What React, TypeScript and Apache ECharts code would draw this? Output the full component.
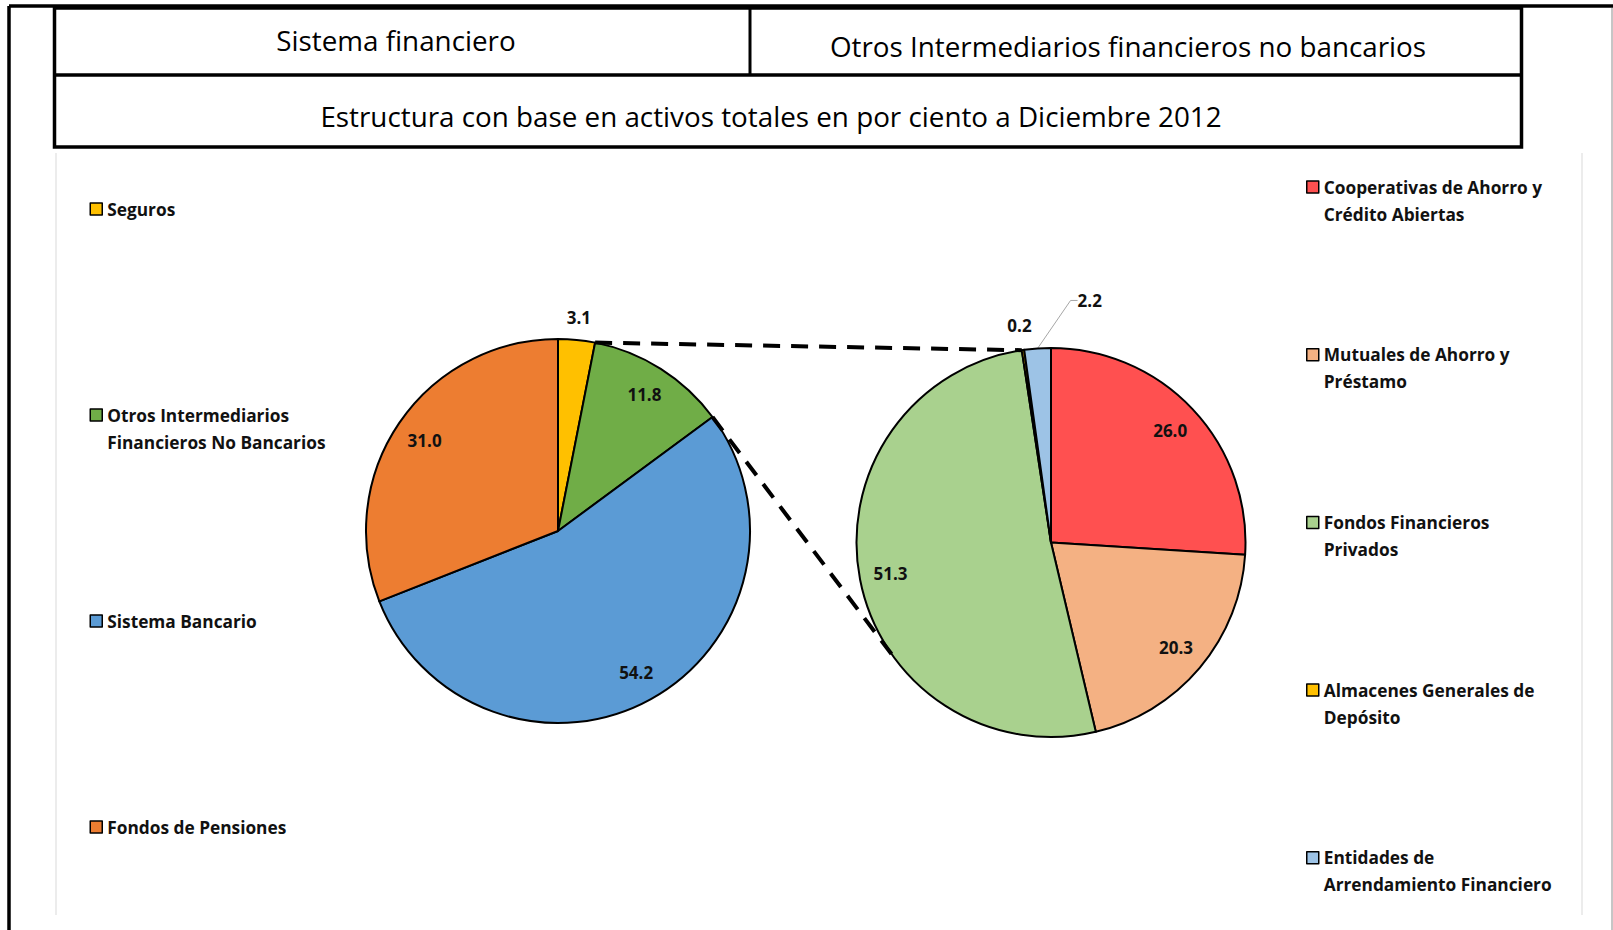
import React, { useEffect, useRef } from 'react';
import * as echarts from 'echarts';

const W = 1613;
const H = 930;

// Sistema financiero (primary pie)
const leftNames = [
  'Seguros',
  'Otros Intermediarios Financieros No Bancarios',
  'Sistema Bancario',
  'Fondos de Pensiones',
];
const leftValues = [3.1, 11.8, 54.2, 31.0];
const leftColors = ['#FFC000', '#70AD47', '#5B9BD5', '#ED7D31'];
const leftLegendLines = [
  ['Seguros'],
  ['Otros Intermediarios', 'Financieros No Bancarios'],
  ['Sistema Bancario'],
  ['Fondos de Pensiones'],
];

// Otros intermediarios financieros no bancarios (secondary pie)
const rightNames = [
  'Cooperativas de Ahorro y Crédito Abiertas',
  'Mutuales de Ahorro y Préstamo',
  'Fondos Financieros Privados',
  'Almacenes Generales de Depósito',
  'Entidades de Arrendamiento Financiero',
];
const rightValues = [26.0, 20.3, 51.3, 0.2, 2.2];
const rightColors = ['#FF5050', '#F4B183', '#A9D18E', '#FFC000', '#9DC3E6'];
const rightLegendLines = [
  ['Cooperativas de Ahorro y', 'Crédito Abiertas'],
  ['Mutuales de Ahorro y', 'Préstamo'],
  ['Fondos Financieros', 'Privados'],
  ['Almacenes Generales de', 'Depósito'],
  ['Entidades de', 'Arrendamiento Financiero'],
];

const headerTitles = [
  'Sistema financiero',
  'Otros Intermediarios financieros no bancarios',
  'Estructura con base en activos totales en por ciento a Diciembre 2012',
];

// slice index that is broken out into the secondary pie
const explodedIndex = 1;
// index where the small group of the secondary pie starts
const secondaryGroupStart = 3;

// label placement per slice: 'in' (inside ring), 'out' (just past the rim), 'callout'
const leftLabelMode = ['out', 'in', 'in', 'in'];
const rightLabelMode = ['in', 'in', 'in', 'out', 'callout'];

const FONT = '"Open Sans", Lato, sans-serif';
const LEFT = { cx: 558, cy: 531, r: 192 };
const RIGHT = { cx: 1051, cy: 542.5, r: 194.5 };

type Circle = { cx: number; cy: number; r: number };

const rad = (d: number) => (d * Math.PI) / 180;
const pointAt = (c: Circle, deg: number, rr: number = c.r): number[] => [
  c.cx + rr * Math.sin(rad(deg)),
  c.cy - rr * Math.cos(rad(deg)),
];
const cumDeg = (vals: number[], k: number) => {
  const total = vals.reduce((a, b) => a + b, 0);
  return (vals.slice(0, k).reduce((a, b) => a + b, 0) / total) * 360;
};
// lower tangent point from an outside point to a circle
const lowerTangent = (p: number[], c: Circle): number[] => {
  const vx = p[0] - c.cx;
  const vy = p[1] - c.cy;
  const d = Math.hypot(vx, vy);
  const phi = Math.acos(c.r / d);
  const base = Math.atan2(vy, vx);
  const cands = [base + phi, base - phi].map((a) => [c.cx + c.r * Math.cos(a), c.cy + c.r * Math.sin(a)]);
  return cands[0][1] > cands[1][1] ? cands[0] : cands[1];
};

const labelText = {
  fontFamily: FONT,
  fontWeight: 'bold' as const,
  fontSize: 17,
  color: '#111',
};

const fmt = (p: any) => Number(p.value).toFixed(1);

function mainPie(c: Circle, names: string[], vals: number[], colors: string[], modes: string[]) {
  return {
    type: 'pie',
    center: [c.cx, c.cy],
    radius: [0, c.r],
    startAngle: 90,
    clockwise: true,
    avoidLabelOverlap: false,
    emphasis: { disabled: true },
    itemStyle: { borderColor: '#000', borderWidth: 2 },
    label: { show: false },
    labelLine: { show: false },
    data: names.map((n, i) => {
      const item: any = { name: n, value: vals[i], itemStyle: { color: colors[i] } };
      if (modes[i] === 'callout') {
        item.label = { show: true, position: 'outside', formatter: fmt, ...labelText };
        item.labelLine = {
          show: true,
          length: 10,
          length2: 7,
          lineStyle: { color: '#a6a6a6', width: 1 },
        };
      }
      return item;
    }),
    labelLayout: (p: any) => {
      if (modes[p.dataIndex] !== 'callout' || !p.labelLinePoints) return {};
      const a = p.labelLinePoints[0];
      return { x: a[0] + 40, y: a[1] - 48, align: 'left', verticalAlign: 'middle' };
    },
  };
}

function labelRing(c: Circle, names: string[], vals: number[], modes: string[], mode: string, r0: number, r1: number) {
  return {
    type: 'pie',
    center: [c.cx, c.cy],
    radius: [r0, r1],
    startAngle: 90,
    clockwise: true,
    silent: true,
    legendHoverLink: false,
    avoidLabelOverlap: false,
    emphasis: { disabled: true },
    itemStyle: { color: 'rgba(0,0,0,0)', borderWidth: 0 },
    labelLine: { show: false },
    label: { show: true, position: 'inside', formatter: fmt, ...labelText },
    data: names.map((n, i) => ({
      name: n,
      value: vals[i],
      label: { show: modes[i] === mode },
    })),
  };
}

function legend(names: string[], lines: string[][], left: number, top: number, gap: number) {
  const map: Record<string, string> = {};
  names.forEach((n, i) => {
    const l = lines[i];
    // pad every entry to three lines so the swatch sits on the first text line
    map[n] = '\n' + l.join('\n') + (l.length === 1 ? '\n ' : '');
  });
  return {
    orient: 'vertical',
    left,
    top,
    itemGap: gap,
    itemWidth: 12,
    itemHeight: 12,
    icon: 'rect',
    selectedMode: false,
    padding: 0,
    data: names,
    formatter: (n: string) => map[n],
    itemStyle: { borderColor: '#000', borderWidth: 1.5 },
    textStyle: {
      fontFamily: FONT,
      fontWeight: 'bold',
      fontSize: 17.3,
      lineHeight: 27,
      color: '#111',
    },
  };
}

export default function App() {
  const ref = useRef<HTMLDivElement>(null);

  useEffect(() => {
    if (!ref.current) return;
    const chart = echarts.init(ref.current, undefined, { renderer: 'svg', width: W, height: H });

    // connector lines from the broken-out slice to the secondary pie
    const p1 = pointAt(LEFT, cumDeg(leftValues, explodedIndex));
    const p2 = pointAt(LEFT, cumDeg(leftValues, explodedIndex + 1));
    const q1 = pointAt(RIGHT, cumDeg(rightValues, secondaryGroupStart));
    const q2 = lowerTangent(p2, RIGHT);

    const black = '#000';
    const frame = { stroke: black, lineWidth: 3.5 };
    const headerStyle = { fontFamily: FONT, fontSize: 27.8, fill: '#000', align: 'center', verticalAlign: 'middle' };
    const graphic: any[] = [
      { type: 'line', shape: { x1: 9, y1: 6, x2: W, y2: 6 }, style: frame },
      { type: 'line', shape: { x1: 9, y1: 6, x2: 9, y2: H }, style: frame },
      { type: 'line', shape: { x1: 1612, y1: 8, x2: 1612, y2: H }, style: { stroke: '#8c8c8c', lineWidth: 1 } },
      { type: 'rect', shape: { x: 54.5, y: 8, width: 1467, height: 139 }, style: { fill: 'none', ...frame } },
      { type: 'line', shape: { x1: 54.5, y1: 75, x2: 1521.5, y2: 75 }, style: frame },
      { type: 'line', shape: { x1: 750, y1: 8, x2: 750, y2: 75 }, style: { stroke: black, lineWidth: 3 } },
      { type: 'line', shape: { x1: 56, y1: 153, x2: 56, y2: 915 }, style: { stroke: '#d9d9d9', lineWidth: 1 } },
      { type: 'line', shape: { x1: 1582, y1: 153, x2: 1582, y2: 915 }, style: { stroke: '#d9d9d9', lineWidth: 1 } },
      { type: 'text', x: 396, y: 40, style: { text: headerTitles[0], ...headerStyle } },
      { type: 'text', x: 1128, y: 46, style: { text: headerTitles[1], ...headerStyle } },
      { type: 'text', x: 771, y: 116, style: { text: headerTitles[2], ...headerStyle } },
      {
        type: 'line', z: 10,
        shape: { x1: p1[0], y1: p1[1], x2: q1[0], y2: q1[1] },
        style: { stroke: black, lineWidth: 4, lineDash: [17, 11] },
      },
      {
        type: 'line', z: 10,
        shape: { x1: p2[0], y1: p2[1], x2: q2[0], y2: q2[1] },
        style: { stroke: black, lineWidth: 4, lineDash: [17, 11] },
      },
    ];

    chart.setOption({
      animation: false,
      backgroundColor: '#fff',
      legend: [
        legend(leftNames, leftLegendLines, 89.5, 168.5, 125),
        legend(rightNames, rightLegendLines, 1306, 146.5, 86.7),
      ],
      series: [
        mainPie(LEFT, leftNames, leftValues, leftColors, leftLabelMode),
        mainPie(RIGHT, rightNames, rightValues, rightColors, rightLabelMode),
        labelRing(LEFT, leftNames, leftValues, leftLabelMode, 'in', LEFT.r * 0.65, LEFT.r),
        labelRing(LEFT, leftNames, leftValues, leftLabelMode, 'out', LEFT.r, LEFT.r * 1.2),
        labelRing(RIGHT, rightNames, rightValues, rightLabelMode, 'in', RIGHT.r * 0.65, RIGHT.r),
        labelRing(RIGHT, rightNames, rightValues, rightLabelMode, 'out', RIGHT.r, RIGHT.r * 1.22),
      ],
      graphic,
    });

    return () => chart.dispose();
  }, []);

  return (
    <div
      ref={ref}
      style={{ position: 'fixed', left: 0, top: 0, width: W, height: H, background: '#fff' }}
    />
  );
}
